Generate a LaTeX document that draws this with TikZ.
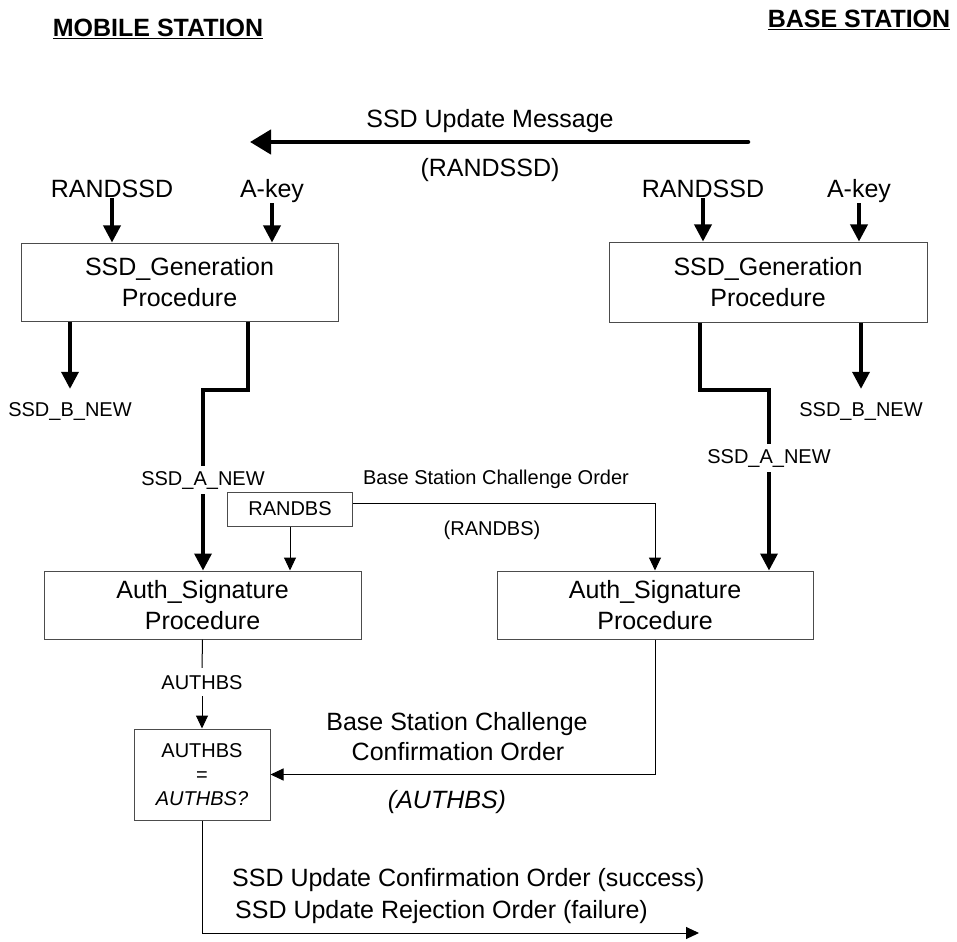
\documentclass[tikz,border=0pt]{standalone}
\usepackage{fontspec}
\setmainfont{Liberation Sans}
\usepackage{tikz}
\usetikzlibrary{positioning,arrows.meta}
\newcommand{\bigtxt}{\fontsize{25}{31}\selectfont}
\newcommand{\smalltxt}{\fontsize{20}{24}\selectfont}

\begin{document}
\begin{tikzpicture}[x=1pt, y=-1pt,
  proc/.style={rectangle, draw=black!70, line width=1pt, font=\bigtxt, align=center, inner sep=0pt},
  lbl/.style={font=\bigtxt, inner sep=0pt, anchor=base},
  slbl/.style={font=\smalltxt, inner sep=0pt, anchor=base},
  heading/.style={font=\bigtxt\bfseries, inner sep=0pt, anchor=base},
  fat/.style={-{Triangle[length=17pt,width=17pt]}, line width=3.5pt},
  fatline/.style={line width=3.5pt},
  thin/.style={-{Triangle[length=13pt,width=12pt]}, line width=1pt}
]
\useasboundingbox (0,0) rectangle (957,941);

% headings
\node[heading] (ms) at (158,37) {\underline{MOBILE STATION}};
\node[heading] (bs) at (859,28) {\underline{BASE STATION}};

% SSD update message
\coordinate (msgStart) at (748,142);
\coordinate (msgEnd) at (250,142);
\draw[-{Triangle[length=21pt,width=24pt]}, line width=4.5pt, line cap=round] (msgStart) -- (msgEnd);
\node[lbl] (msg) at (490,128) {SSD Update Message};
\node[lbl] (msgarg) at (490,177) {(RANDSSD)};

% mobile station
\node[lbl] (randL) at (112,198) {RANDSSD};
\node[lbl] (akeyL) at (272,198) {A-key};
\node[proc, minimum width=317pt, minimum height=78pt] (genL) at (179.5,282) {SSD\_Generation\\Procedure};
\node[slbl] (bnewL) at (70,416) {SSD\_B\_NEW};
\node[slbl, inner sep=5pt] (anewL) at (203,485) {SSD\_A\_NEW};
\node[proc, minimum width=317pt, minimum height=68pt] (authL) at (202.5,605) {Auth\_Signature\\Procedure};
\draw[fat] (randL.south) -- (randL.south |- genL.north);
\draw[fat] (akeyL.south) -- (akeyL.south |- genL.north);
\draw[fat, shorten >=13pt] (bnewL.north |- genL.south) -- (bnewL.north);
\coordinate (kinkL) at (248,390);
\draw[fatline] (genL.south -| kinkL) -- (kinkL) -| (anewL.north);
\draw[fat] (anewL.south) -- (anewL.south |- authL.north);

% base station
\node[lbl] (randR) at (703,198) {RANDSSD};
\node[lbl] (akeyR) at (859,198) {A-key};
\node[proc, minimum width=318pt, minimum height=80pt] (genR) at (768,282) {SSD\_Generation\\Procedure};
\node[slbl] (bnewR) at (861,416) {SSD\_B\_NEW};
\node[slbl, inner sep=5pt] (anewR) at (769,463) {SSD\_A\_NEW};
\node[proc, minimum width=316pt, minimum height=68pt] (authR) at (655,605) {Auth\_Signature\\Procedure};
\draw[fat] (randR.south) -- (randR.south |- genR.north);
\draw[fat] (akeyR.south) -- (akeyR.south |- genR.north);
\draw[fat, shorten >=13pt] (bnewR.north |- genR.south) -- (bnewR.north);
\coordinate (kinkR) at (700,390);
\draw[fatline] (genR.south -| kinkR) -- (kinkR) -| (anewR.north);
\draw[fat] (anewR.south) -- (anewR.south |- authR.north);

% challenge order
\node[proc, font=\smalltxt, minimum width=125pt, minimum height=34pt] (randbs) at (290,509) {RANDBS};
\node[slbl] (bsco) at (496,484) {Base Station Challenge Order};
\node[slbl] (bscoarg) at (492,535) {(RANDBS)};
\draw[thin] ([yshift=6pt]randbs.east) -| (authR.north);
\draw[thin] (randbs.south) -- (randbs.south |- authL.north);

% confirmation
\node[slbl, inner sep=7pt] (authbs) at (202,689) {AUTHBS};
\node[proc, font=\smalltxt, minimum width=136pt, minimum height=91pt] (cmp) at (202,774.5) {AUTHBS\\=\\\textit{AUTHBS?}};
\draw[line width=1pt] (authL.south) -- (authbs.north);
\draw[thin] (authbs.south) -- (cmp.north);
\draw[thin] (authR.south) |- (cmp.east);
\node[lbl] (bscc) at (457,730) {Base Station Challenge};
\node[lbl] (bscc2) at (458,760) {Confirmation Order};
\node[lbl] (bsccarg) at (447,808) {\textit{(AUTHBS)}};

% result
\coordinate (outEnd) at (699,933);
\draw[thin] (cmp.south) |- (outEnd);
\node[lbl, anchor=base west] (okL) at (232,886) {SSD Update Confirmation Order (success)};
\node[lbl, anchor=base west] (nokL) at (235,918) {SSD Update Rejection Order (failure)};
\end{tikzpicture}
\end{document}
